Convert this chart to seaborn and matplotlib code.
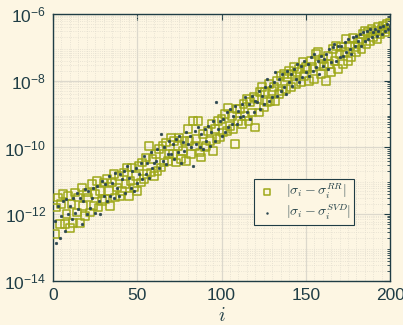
import numpy as np
import pandas as pd
import matplotlib
matplotlib.use("Agg")
import matplotlib.pyplot as plt
import matplotlib.ticker as mticker
import seaborn as sns

# log10 of |sigma_i - sigma_i^RR|, i = 1..200
rr_log = [
    -12.6, -11.8, -11.5, -12.3, -11.7, -11.4, -12.3, -12.0, -11.45, -12.4,
    -11.7, -12.25, -11.35, -11.95, -11.5, -12.25, -11.2, -11.75, -12.05, -11.35,
    -11.5, -11.95, -11.1, -11.75, -11.4, -11.0, -11.8, -11.3, -11.6, -11.05,
    -11.55, -10.95, -11.3, -11.75, -11.05, -10.8, -11.5, -11.2, -10.85, -11.45,
    -11.3, -10.75, -11.1, -10.6, -11.45, -11.0, -10.6, -11.2, -10.85, -11.3,
    -10.55, -11.05, -10.45, -10.95, -10.3, -10.8, -9.95, -10.75, -10.35, -10.85,
    -10.2, -10.7, -10.05, -10.6, -9.95, -10.45, -9.85, -10.4, -10.2, -9.7,
    -10.2, -9.8, -10.45, -9.95, -9.7, -10.35, -10.1, -9.8, -10.4, -9.45,
    -9.8, -10.2, -9.2, -9.95, -9.75, -9.2, -10.15, -10.3, -9.6, -10.0,
    -9.95, -9.5, -9.8, -9.3, -10.1, -9.45, -9.75, -9.2, -9.7, -9.15,
    -9.55, -9.0, -9.5, -8.8, -9.35, -9.05, -9.45, -9.9, -8.85, -9.2,
    -8.85, -9.3, -8.7, -9.05, -8.55, -9.2, -8.65, -8.95, -8.5, -9.4,
    -8.55, -8.95, -8.35, -8.2, -8.8, -8.35, -8.65, -8.1, -8.6, -8.3,
    -8.2, -8.6, -8.0, -8.4, -7.85, -8.3, -7.8, -8.25, -7.9, -7.7,
    -8.2, -7.8, -7.6, -8.1, -7.75, -7.65, -8.05, -7.45, -7.85, -7.6,
    -7.65, -8.0, -7.4, -7.6, -7.95, -7.2, -7.15, -7.5, -7.8, -7.35,
    -7.55, -8.0, -7.25, -7.5, -7.75, -7.05, -7.4, -6.95, -7.65, -7.2,
    -7.0, -7.5, -7.15, -6.75, -7.4, -6.95, -7.3, -6.72, -7.0, -7.15,
    -6.85, -6.75, -7.05, -6.6, -6.5, -6.9, -6.55, -6.8, -6.45, -6.7,
    -6.5, -6.75, -6.4, -6.6, -6.45, -6.35, -6.55, -6.3, -6.45, -6.28,
]

# log10 of |sigma_i - sigma_i^SVD|, i = 1..200
svd_log = [
    -12.2, -12.85, -11.75, -12.7, -12.05, -11.6, -12.5, -11.55, -12.0, -11.75,
    -12.15, -11.5, -11.95, -11.35, -11.85, -11.5, -12.3, -11.6, -11.25, -12.0,
    -11.3, -11.8, -11.5, -11.2, -11.95, -11.15, -11.6, -12.0, -11.0, -11.45,
    -11.1, -11.6, -10.85, -11.45, -11.05, -11.5, -10.75, -11.2, -11.45, -10.8,
    -10.95, -10.7, -11.35, -10.55, -10.9, -11.2, -10.7, -11.3, -10.6, -11.05,
    -10.8, -10.45, -10.95, -10.25, -10.8, -10.45, -10.9, -10.15, -10.6, -10.45,
    -10.4, -10.05, -10.6, -9.6, -10.4, -10.0, -10.5, -10.2, -9.8, -10.2,
    -9.9, -10.35, -9.75, -10.15, -9.65, -10.45, -9.85, -10.1, -9.55, -9.9,
    -9.65, -10.0, -10.55, -9.5, -9.9, -9.4, -10.0, -9.6, -10.05, -9.45,
    -9.8, -9.35, -9.95, -9.55, -9.2, -9.8, -8.65, -9.45, -9.2, -9.65,
    -9.15, -9.55, -8.95, -9.4, -8.85, -9.3, -9.05, -8.75, -9.3, -8.9,
    -9.1, -8.7, -9.05, -8.5, -8.95, -8.7, -9.15, -8.45, -8.95, -8.6,
    -8.65, -8.3, -8.85, -8.45, -8.7, -8.2, -7.95, -8.6, -8.15, -8.5,
    -8.05, -7.75, -8.45, -7.95, -8.3, -7.8, -8.2, -8.4, -7.7, -8.05,
    -7.8, -8.15, -7.65, -7.95, -7.5, -8.05, -7.55, -7.9, -7.4, -7.75,
    -7.5, -7.85, -7.3, -7.7, -7.2, -7.6, -7.4, -7.8, -7.25, -7.55,
    -7.35, -7.2, -7.65, -7.05, -7.45, -7.0, -6.9, -7.4, -6.95, -7.3,
    -6.95, -7.25, -6.85, -7.15, -6.75, -7.05, -7.2, -6.7, -6.95, -6.65,
    -6.8, -6.6, -6.95, -6.55, -6.8, -6.5, -6.75, -6.45, -6.7, -6.55,
    -6.45, -6.65, -6.5, -6.4, -6.6, -6.35, -6.5, -6.3, -6.45, -6.35,
]

idx = list(range(1, 201))
x_ticks = [0, 50, 100, 150, 200]
y_ticks = [1e-14, 1e-12, 1e-10, 1e-8, 1e-6]
label_rr = r'$|\sigma_i - \sigma_i^{RR}|$'
label_svd = r'$|\sigma_i - \sigma_i^{SVD}|$'

BG = '#fdf6e3'
TXT = '#1f3d45'
C_RR = '#9ea81a'
C_SVD = '#2b4650'

sns.set_theme(style='white')
plt.rcParams['font.family'] = ['Liberation Sans', 'DejaVu Sans']
plt.rcParams['mathtext.fontset'] = 'cm'

df_rr = pd.DataFrame({'i': idx, 'err': [10.0 ** v for v in rr_log]})
df_svd = pd.DataFrame({'i': idx, 'err': [10.0 ** v for v in svd_log]})

fig = plt.figure(figsize=(4.03, 3.25), dpi=100, facecolor=BG)
ax = fig.add_axes([0.1315, 0.1354, 0.8365, 0.8216])
ax.set_facecolor(BG)

sns.scatterplot(data=df_rr, x='i', y='err', ax=ax, marker='s', s=32,
                facecolors='none', edgecolor=C_RR, linewidth=1.1,
                label=label_rr, zorder=3)
sns.scatterplot(data=df_svd, x='i', y='err', ax=ax, marker='o', s=4,
                color=C_SVD, edgecolor=C_SVD, linewidth=0.3,
                label=label_svd, zorder=4)

ax.set_yscale('log')
ax.set_xlim(0, 200)
ax.set_ylim(1e-14, 1e-6)
ax.set_xticks(x_ticks)
ax.set_yticks(y_ticks)
ax.xaxis.set_minor_locator(mticker.MultipleLocator(5))
ax.yaxis.set_minor_locator(mticker.LogLocator(base=10, subs=np.arange(2, 10), numticks=20))
ax.yaxis.set_minor_formatter(mticker.NullFormatter())

ax.grid(True, which='major', color='#dcd8cc', linewidth=0.9, linestyle='-')
ax.grid(True, which='minor', color='#e2ddcf', linewidth=0.6, linestyle=':')
ax.set_axisbelow(True)

for sp in ax.spines.values():
    sp.set_color(TXT)
    sp.set_linewidth(1.0)
    sp.set_visible(True)

ax.tick_params(axis='both', which='both', direction='in', top=True, right=True,
               colors=TXT, labelcolor=TXT)
ax.tick_params(axis='both', which='major', length=4, width=0.8, labelsize=12.5, pad=5)
ax.tick_params(axis='both', which='minor', length=2, width=0.6)
ax.tick_params(axis='x', which='minor', length=0)

ax.set_xlabel(r'$i$', fontsize=14, color=TXT, labelpad=3)
ax.set_ylabel('')

leg = ax.legend(loc='center left', bbox_to_anchor=(0.575, 0.296), fontsize=10,
                frameon=True, fancybox=False, framealpha=1.0, facecolor=BG,
                edgecolor=TXT, borderpad=0.2, handletextpad=0.6,
                labelspacing=0.1, handlelength=1.5, markerscale=0.7)
leg.get_frame().set_linewidth(0.8)
for t in leg.get_texts():
    t.set_color(TXT)

fig.savefig('out.png', dpi=100, facecolor=BG)
